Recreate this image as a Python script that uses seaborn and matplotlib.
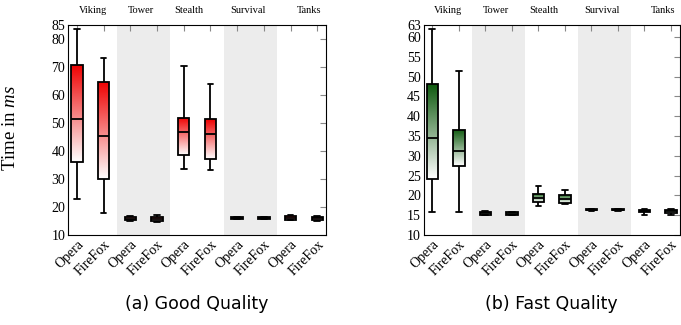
from __future__ import annotations

import matplotlib

matplotlib.use("Agg")
import matplotlib.pyplot as plt
import numpy as np
import pandas as pd
import seaborn as sns
from matplotlib.colors import LinearSegmentedColormap
from matplotlib.patches import PathPatch
from matplotlib.transforms import blended_transform_factory


GAMES = ["Viking", "Tower", "Stealth", "Survival", "Tanks"]
BROWSERS = ["Opera", "FireFox"]

# five-number summaries (min, q1, median, q3, max), one per box, in game/browser order
GOOD_STATS = [
    [22.9, 35.9, 51.6, 70.7, 83.6],
    [18.0, 30.0, 45.4, 64.8, 73.2],
    [14.9, 15.2, 15.7, 16.3, 16.7],
    [14.8, 15.0, 15.6, 16.5, 17.3],
    [33.5, 38.4, 46.8, 51.9, 70.3],
    [33.1, 37.1, 46.1, 51.3, 63.9],
    [15.6, 15.7, 16.0, 16.4, 16.5],
    [15.7, 15.8, 16.0, 16.3, 16.4],
    [15.2, 15.5, 16.0, 16.6, 17.1],
    [15.0, 15.4, 15.9, 16.5, 16.8],
]
FAST_STATS = [
    [15.7, 24.2, 34.4, 48.1, 62.1],
    [15.7, 27.4, 31.2, 36.6, 51.5],
    [15.0, 15.1, 15.5, 15.9, 16.0],
    [15.0, 15.1, 15.4, 15.8, 15.9],
    [17.4, 18.3, 19.4, 20.4, 22.3],
    [17.7, 18.1, 19.1, 20.2, 21.4],
    [16.1, 16.2, 16.3, 16.5, 16.6],
    [16.1, 16.2, 16.3, 16.5, 16.6],
    [15.0, 15.7, 16.1, 16.4, 16.5],
    [15.1, 15.6, 16.0, 16.4, 16.6],
]

GOOD_YTICKS = [10, 20, 30, 40, 50, 60, 70, 80, 85]
FAST_YTICKS = [10, 15, 20, 25, 30, 35, 40, 45, 50, 55, 60, 63]

TITLE_X = [0.6, 2.4, 4.2, 6.4, 8.7]
SHADED_GAMES = ["Tower", "Survival"]

SERIF = "Liberation Serif"


def build_frame(stats: list[list[float]]) -> pd.DataFrame:
    rows = []
    i = 0
    for game in GAMES:
        for browser in BROWSERS:
            for v in stats[i]:
                rows.append({"key": f"{game}-{browser}", "time": v})
            i += 1
    return pd.DataFrame(rows)


def paint_gradient(ax, top_color: str) -> None:
    cmap = LinearSegmentedColormap.from_list("grad", ["#ffffff", top_color])
    grad = np.linspace(0, 1, 256).reshape(-1, 1)
    for patch in list(ax.patches):
        if not isinstance(patch, PathPatch):
            continue
        ext = patch.get_path().get_extents()
        img = ax.imshow(
            grad, cmap=cmap, origin="lower", aspect="auto",
            extent=(ext.x0, ext.x1, ext.y0, ext.y1), zorder=1.5, interpolation="bilinear",
        )
        img.set_clip_path(patch)
        patch.set_facecolor("none")
        patch.set_zorder(2.5)


def draw_panel(ax, stats, yticks, top_color, caption) -> None:
    df = build_frame(stats)
    order = [f"{g}-{b}" for g in GAMES for b in BROWSERS]
    sns.boxplot(
        data=df, x="key", y="time", order=order, ax=ax, width=0.43,
        color="white", linecolor="black", linewidth=1.3, whis=(0, 100),
        showfliers=False,
    )
    for line in ax.lines:
        line.set_zorder(2.6)
    paint_gradient(ax, top_color)

    for g in SHADED_GAMES:
        i = GAMES.index(g)
        ax.axvspan(2 * i - 0.5, 2 * i + 1.5, color="#ececec", lw=0, zorder=0.5)

    ax.set_xlim(-0.33, 9.33)
    ax.set_ylim(yticks[0], yticks[-1])
    ax.set_yticks(yticks)
    ax.set_xticks(range(len(order)))
    ax.set_xticklabels([b for _ in GAMES for b in BROWSERS], rotation=45, ha="right",
                       rotation_mode="anchor", family=SERIF, fontsize=10)
    for lab in ax.get_yticklabels():
        lab.set_family(SERIF)
        lab.set_fontsize(10)
    ax.set_xlabel("")
    ax.set_ylabel("")
    ax.tick_params(axis="both", which="both", direction="in", length=4, color="#888888",
                   labelcolor="black", top=True, right=True, pad=2)
    for side in ax.spines.values():
        side.set_visible(True)
        side.set_color("black")
        side.set_linewidth(0.8)

    trans = blended_transform_factory(ax.transData, ax.transAxes)
    for x, g in zip(TITLE_X, GAMES):
        ax.text(x, 1.07, g, transform=trans, ha="center", va="center", family=SERIF,
                fontsize=7.5, color="black")

    ax.text(0.5, -0.33, caption, transform=ax.transAxes, ha="center", va="center",
            family="DejaVu Sans", fontsize=12.5, color="black")


def main() -> None:
    sns.set_style("white")
    plt.rcParams["font.family"] = [SERIF, "DejaVu Serif"]
    plt.rcParams["mathtext.fontset"] = "custom"
    plt.rcParams["mathtext.it"] = f"{SERIF}:italic"
    plt.rcParams["mathtext.rm"] = SERIF
    plt.rcParams["text.color"] = "black"
    plt.rcParams["axes.labelcolor"] = "black"

    fig = plt.figure(figsize=(6.81, 3.25), dpi=100)
    ax_good = fig.add_axes([0.0999, 0.277, 0.379, 0.646])
    ax_fast = fig.add_axes([0.622, 0.277, 0.376, 0.646])

    draw_panel(ax_good, GOOD_STATS, GOOD_YTICKS, "#ee0000", "(a) Good Quality")
    draw_panel(ax_fast, FAST_STATS, FAST_YTICKS, "#0f5a0f", "(b) Fast Quality")

    ax_good.set_ylabel(r"Time in $\it{ms}$", fontsize=13.5, family=SERIF, color="black")
    ax_good.yaxis.set_label_coords(-0.19, 0.51)

    fig.savefig("out.png", dpi=100)
    plt.close(fig)


if __name__ == "__main__":
    main()
